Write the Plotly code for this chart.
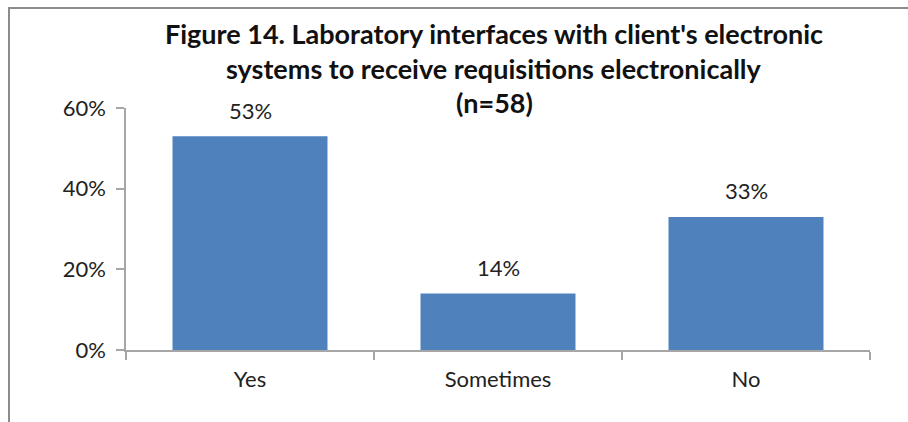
import plotly.graph_objects as go

# Survey responses (n=58)
categories = ["Yes", "Sometimes", "No"]
percent = [53, 14, 33]
y_ticks = [0, 20, 40, 60]
y_tick_labels = ["0%", "20%", "40%", "60%"]
title_lines = [
    "Figure 14. Laboratory interfaces with client's electronic",
    "systems to receive requisitions electronically",
    "(n=58)",
]

FONT = "Lato"
BAR_COLOR = "#4F81BD"
AXIS_COLOR = "#A6A6A6"
TEXT_SIZE = 22

W, H = 908, 422
L, R, T, B = 126, 38, 108, 72
plot_h = H - T - B
plot_w = W - L - R


def py_to_paper(py):
    return (H - B - py) / plot_h


def px_to_paper(px):
    return (px - L) / plot_w


fig = go.Figure(
    go.Bar(
        x=categories,
        y=percent,
        marker=dict(color=BAR_COLOR, line=dict(width=0)),
        width=0.625,
        hoverinfo="skip",
    )
)

# Value labels above each bar
for cat, val in zip(categories, percent):
    fig.add_annotation(
        x=cat, y=val, text=f"{val}%", showarrow=False,
        yanchor="middle", yshift=26,
        font=dict(family=FONT, size=TEXT_SIZE, color="#222222"),
    )

# Three-line bold title
for line, py in zip(title_lines, [33, 68, 103]):
    fig.add_annotation(
        xref="paper", yref="paper",
        x=px_to_paper(494), y=py_to_paper(py),
        text=f"<b>{line}</b>", showarrow=False,
        xanchor="center", yanchor="middle",
        font=dict(family=FONT, size=27, color="#111111"),
    )

# Outer frame of the chart
fig.add_shape(
    type="rect", xref="paper", yref="paper",
    x0=px_to_paper(9), x1=px_to_paper(W + 20),
    y0=py_to_paper(H + 20), y1=py_to_paper(8),
    line=dict(color="#8C8C8C", width=2), layer="below",
)

fig.update_layout(
    width=W, height=H,
    margin=dict(l=L, r=R, t=T, b=B, pad=0),
    paper_bgcolor="white", plot_bgcolor="white",
    showlegend=False,
    bargap=0.375,
)

fig.update_xaxes(
    showline=True, linecolor=AXIS_COLOR, linewidth=1.5,
    ticks="outside", tickson="boundaries", ticklen=8,
    tickcolor=AXIS_COLOR, tickwidth=1.5,
    ticklabelstandoff=9,
    tickfont=dict(family=FONT, size=TEXT_SIZE, color="#222222"),
    showgrid=False, zeroline=False,
)
fig.update_yaxes(
    range=[0, 60], tickvals=y_ticks, ticktext=y_tick_labels,
    showline=True, linecolor=AXIS_COLOR, linewidth=1.5,
    ticks="outside", ticklen=8, tickcolor=AXIS_COLOR, tickwidth=1.5,
    ticklabelstandoff=6,
    tickfont=dict(family=FONT, size=TEXT_SIZE, color="#222222"),
    showgrid=False, zeroline=False,
)

fig.write_html("out.html")
